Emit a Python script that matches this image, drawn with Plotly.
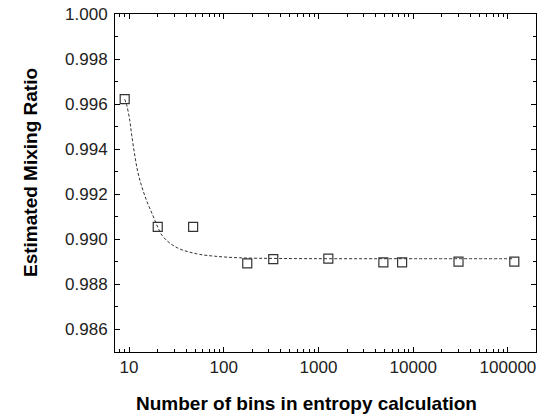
import plotly.graph_objects as go

# measured data points
bins = [9.0, 20.1, 47.5, 177, 333, 1270, 4840, 7630, 30060, 116700]
mixing_ratio = [0.99622, 0.99055, 0.99055, 0.98893, 0.98912, 0.98914,
                0.98898, 0.98898, 0.98901, 0.98901]

# fitted curve
fit_bins = [9.0, 9.46, 10.17, 10.68, 11.49, 12.36, 13.62, 15.39, 17.81, 20.1,
            22.2, 26.96, 34.4, 43.9, 55.9, 80.5, 148, 392, 1500, 10000, 116700]
fit_ratio = [0.99622, 0.99595, 0.99529, 0.99462, 0.99374, 0.99300, 0.99235,
             0.99170, 0.99107, 0.99054, 0.99019, 0.98983, 0.98957, 0.98943,
             0.98933, 0.98925, 0.98918, 0.98915, 0.98914, 0.98914, 0.98914]

x_title = "Number of bins in entropy calculation"
y_title = "Estimated Mixing Ratio"

FONT = "Liberation Sans, Arial, sans-serif"

fig = go.Figure()
fig.add_trace(go.Scatter(
    x=fit_bins, y=fit_ratio, mode="lines", line_shape="spline",
    line=dict(color="#333333", width=1, dash="3px,2px"),
    hoverinfo="skip", showlegend=False))
fig.add_trace(go.Scatter(
    x=bins, y=mixing_ratio, mode="markers",
    marker=dict(symbol="square-open", size=9, color="#333333",
                line=dict(width=1.2, color="#333333")),
    showlegend=False))

axis_common = dict(
    showline=True, linecolor="black", linewidth=1, mirror="allticks",
    ticks="inside", ticklen=5, tickwidth=1, tickcolor="black",
    showgrid=False, zeroline=False, ticklabeloverflow="allow", automargin=False,
    tickfont=dict(family=FONT, size=17, color="#222"),
)

fig.update_xaxes(
    type="log", range=[0.852, 5.296], dtick=1, tickformat="d",
    minor=dict(ticks="inside", ticklen=3, tickcolor="black", dtick="D1", showgrid=False),
    **axis_common)
fig.update_yaxes(
    range=[0.985, 1.000], tick0=0, dtick=0.002, tickformat=".3f",
    ticklabelstandoff=3,
    minor=dict(ticks="inside", ticklen=3, tickcolor="black", dtick=0.001, showgrid=False),
    **axis_common)

title_font = dict(family=FONT, size=19, color="black", weight="bold")
fig.add_annotation(text=x_title, xref="paper", yref="paper", x=0.456, y=-0.151,
                   xanchor="center", yanchor="middle", showarrow=False, font=title_font)
fig.add_annotation(text=y_title, xref="paper", yref="paper", x=-0.202, y=0.5325,
                   xanchor="center", yanchor="middle", textangle=-90,
                   showarrow=False, font=title_font)

fig.update_layout(
    width=542, height=417,
    margin=dict(l=115, r=6, t=14, b=65),
    plot_bgcolor="white", paper_bgcolor="white",
)

fig.write_html("out.html",
               config={"displayModeBar": False},
               post_script="document.body.style.margin='0';document.body.style.overflow='hidden';")
